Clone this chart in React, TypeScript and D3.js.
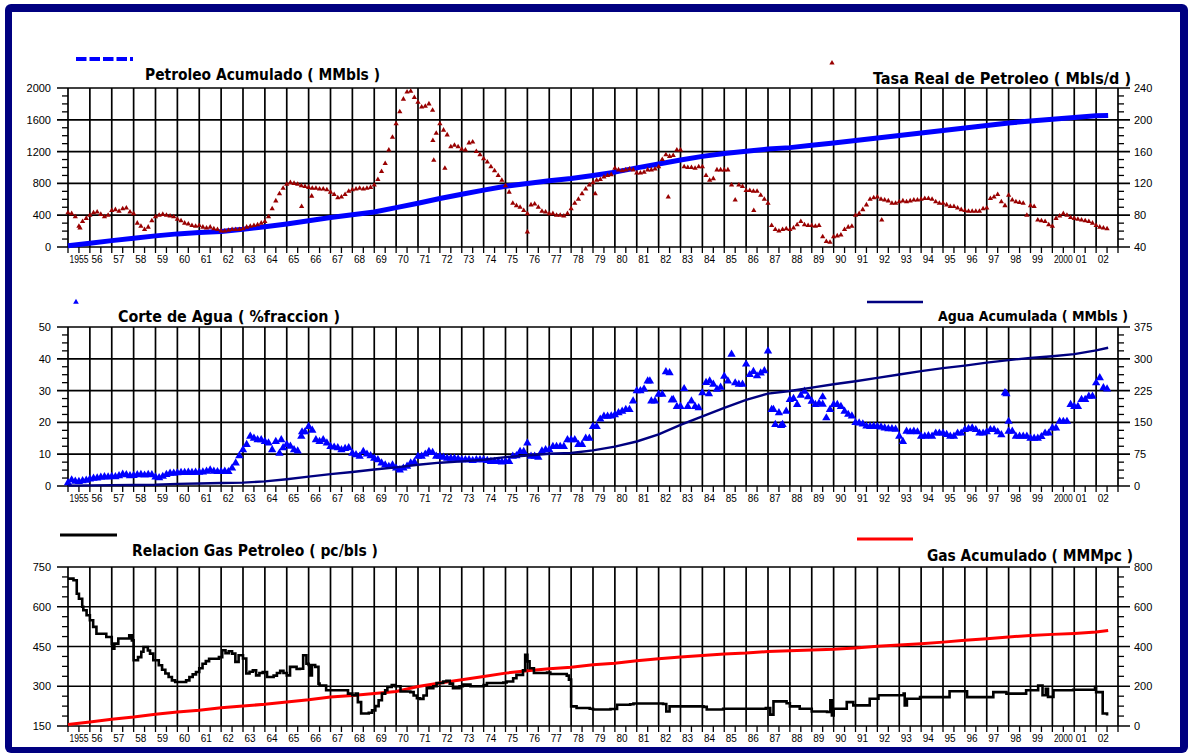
import React from "react";
import * as d3 from "d3";

// ---------- shared time axis ----------
const firstYear = 1955;
const lastYear = 2003;
const yearLabels = [
  "1955", "56", "57", "58", "59", "60", "61", "62", "63", "64", "65", "66",
  "67", "68", "69", "70", "71", "72", "73", "74", "75", "76", "77", "78",
  "79", "80", "81", "82", "83", "84", "85", "86", "87", "88", "89", "90",
  "91", "92", "93", "94", "95", "96", "97", "98", "99", "2000", "01", "02",
];

// yearly readings for the cumulative curves (last entry = last month of data)
const cumYears = [
  1955, 1956, 1957, 1958, 1959, 1960, 1961, 1962, 1963, 1964, 1965, 1966,
  1967, 1968, 1969, 1970, 1971, 1972, 1973, 1974, 1975, 1976, 1977, 1978,
  1979, 1980, 1981, 1982, 1983, 1984, 1985, 1986, 1987, 1988, 1989, 1990,
  1991, 1992, 1993, 1994, 1995, 1996, 1997, 1998, 1999, 2000, 2001, 2002,
  2002.55,
];

// ---------- panel 1: oil ----------
const oilCumTicks = [0, 400, 800, 1200, 1600, 2000];
const oilRateTicks = [40, 80, 120, 160, 200, 240];

// Petroleo Acumulado (MMbls)
const oilCumulative = [
  15, 48, 80, 110, 140, 165, 182, 196, 222, 255, 290, 330,
  370, 405, 440, 495, 550, 610, 664, 715, 765, 800, 832, 862,
  900, 942, 995, 1045, 1095, 1140, 1175, 1205, 1232, 1250, 1280, 1308,
  1340, 1371, 1402, 1434, 1466, 1497, 1528, 1560, 1585, 1608, 1630, 1650,
  1655,
];

// samples per year for the monthly-style scatter series
const samplesPerYear = 6;

// Tasa Real de Petroleo (Mbls/d), bi-monthly from 1955.0
const oilRate = [
  83, 82, 78, 66, 72, 76, // 1955
  80, 83, 84, 81, 78, 80, // 1956
  86, 87, 85, 88, 89, 84, // 1957
  82, 70, 66, 62, 65, 73, // 1958
  78, 80, 81, 80, 79, 78, // 1959
  75, 73, 70, 69, 67, 66, // 1960
  67, 65, 64, 65, 63, 62, // 1961
  60, 60, 61, 62, 62, 62, // 1962
  63, 65, 66, 67, 68, 70, // 1963
  72, 78, 88, 98, 107, 114, // 1964
  119, 121, 120, 119, 117, 116, // 1965
  115, 114, 114, 113, 113, 112, // 1966
  109, 106, 102, 103, 106, 110, // 1967
  112, 113, 114, 113, 114, 115, // 1968
  118, 125, 135, 145, 162, 178, // 1969
  195, 210, 226, 235, 236, 228, // 1970
  222, 216, 217, 220, 212, 183, // 1971
  195, 187, 181, 166, 168, 166, // 1972
  163, 162, 171, 172, 160, 156, // 1973
  151, 147, 141, 136, 130, 124, // 1974
  117, 109, 95, 92, 90, 86, // 1975
  82, 93, 94, 90, 85, 84, // 1976
  82, 82, 80, 80, 79, 82, // 1977
  88, 95, 100, 107, 113, 118, // 1978
  121, 124, 125, 128, 130, 131, // 1979
  139, 137, 136, 137, 138, 137, // 1980
  133, 133, 134, 137, 137, 138, // 1981
  141, 150, 156, 154, 155, 162, // 1982
  162, 141, 140, 140, 139, 141, // 1983
  141, 130, 124, 126, 137, 137, // 1984
  137, 137, 118, 99, 118, 116, // 1985
  111, 111, 110, 110, 105, 100, // 1986
  95, 67, 62, 60, 62, 63, // 1987
  62, 64, 68, 72, 68, 67, // 1988
  67, 66, 67, 53, 47, 46, // 1989
  53, 54, 55, 62, 65, 66, // 1990
  80, 82, 87, 93, 100, 102, // 1991
  103, 100, 99, 98, 95, 95, // 1992
  97, 98, 97, 98, 99, 99, // 1993
  100, 101, 101, 100, 97, 95, // 1994
  95, 93, 91, 91, 89, 87, // 1995
  86, 85, 85, 85, 85, 88, // 1996
  89, 101, 103, 106, 97, 92, // 1997
  105, 99, 97, 96, 95, 80, // 1998
  92, 91, 74, 73, 72, 68, // 1999
  66, 76, 79, 82, 80, 77, // 2000
  76, 75, 74, 73, 72, 70, // 2001
  67, 65, 64, 63, // 2002
];

// isolated rate readings away from the main trend
const oilRateExtra: [number, number][] = [
  [1955.55, 64], [1965.68, 91], [1966.14, 104], [1971.68, 174],
  [1971.72, 149], [1972.23, 139], [1976.0, 59], [1979.1, 107],
  [1982.44, 103], [1986.35, 86], [1992.2, 74],
];

// ---------- panel 2: water ----------
const waterCutTicks = [0, 10, 20, 30, 40, 50];
const waterCumTicks = [0, 75, 150, 225, 300, 375];

// Corte de Agua (%), bi-monthly from 1955.0
const waterCut = [
  1.0, 1.9, 1.5, 1.4, 1.6, 1.8, // 1955
  2.2, 2.4, 2.5, 2.7, 2.9, 2.8, // 1956
  3.0, 2.9, 3.2, 3.7, 3.5, 3.2, // 1957
  3.3, 3.5, 3.6, 3.4, 3.6, 3.5, // 1958
  2.8, 2.6, 3.0, 3.6, 4.0, 4.0, // 1959
  4.1, 4.2, 4.2, 4.3, 4.2, 4.3, // 1960
  4.3, 4.4, 4.6, 5.0, 4.6, 4.5, // 1961
  4.5, 4.6, 4.5, 5.6, 7.2, 9.5, // 1962
  11.4, 13.0, 15.6, 15.0, 14.5, 14.5, // 1963
  14.0, 13.5, 11.4, 14.0, 10.3, 12.0, // 1964
  13.0, 12.5, 11.4, 11.0, 15.6, 17.0, // 1965
  18.7, 17.5, 14.5, 14.0, 14.5, 13.5, // 1966
  12.4, 12.2, 12.0, 11.4, 11.8, 12.0, // 1967
  10.3, 9.8, 9.3, 10.8, 10.0, 9.5, // 1968
  8.7, 8.2, 7.2, 6.6, 6.1, 6.6, // 1969
  5.6, 5.0, 5.6, 6.2, 7.2, 7.5, // 1970
  9.3, 9.3, 10.0, 10.8, 10.5, 9.3, // 1971
  9.3, 9.0, 8.7, 8.7, 8.7, 8.5, // 1972
  8.2, 8.2, 8.2, 8.0, 8.2, 8.2, // 1973
  8.2, 8.0, 7.7, 7.7, 7.7, 7.5, // 1974
  7.7, 7.7, 9.3, 9.5, 10.8, 10.8, // 1975
  13.5, 9.3, 9.3, 9.0, 11.0, 11.4, // 1976
  11.4, 12.4, 12.4, 12.4, 12.4, 14.5, // 1977
  14.5, 14.5, 13.0, 13.0, 15.0, 15.0, // 1978
  18.7, 18.7, 21.0, 21.9, 21.9, 22.0, // 1979
  22.4, 23.0, 23.5, 24.0, 24.0, 26.7, // 1980
  29.9, 29.9, 30.5, 33.0, 26.7, 26.7, // 1981
  28.8, 28.8, 35.9, 35.6, 27.2, 25.0, // 1982
  25.0, 30.6, 25.0, 26.7, 25.0, 24.6, // 1983
  29.3, 32.5, 33.0, 32.0, 30.4, 31.0, // 1984
  34.5, 33.0, 41.4, 32.4, 32.0, 32.0, // 1985
  38.3, 35.0, 36.0, 34.6, 35.5, 36.2, // 1986
  42.4, 24.0, 19.3, 23.0, 19.3, 23.5, // 1987
  27.2, 27.5, 25.6, 28.5, 29.8, 28.0, // 1988
  26.6, 25.6, 26.0, 25.7, 21.4, 24.0, // 1989
  25.6, 25.6, 25.0, 23.5, 22.5, 22.0, // 1990
  19.9, 19.8, 19.5, 18.8, 18.7, 18.8, // 1991
  18.7, 18.5, 18.2, 18.0, 18.0, 17.8, // 1992
  15.6, 14.0, 17.2, 17.0, 17.2, 17.0, // 1993
  15.6, 15.6, 15.8, 15.6, 16.6, 16.6, // 1994
  16.6, 16.2, 15.6, 15.6, 16.6, 16.6, // 1995
  17.7, 18.0, 18.2, 17.7, 16.6, 16.6, // 1996
  17.0, 17.7, 17.7, 17.0, 16.1, 29.3, // 1997
  17.2, 17.2, 15.6, 15.6, 15.6, 15.6, // 1998
  15.0, 15.0, 15.0, 15.5, 16.6, 16.6, // 1999
  18.2, 18.2, 20.3, 20.3, 20.3, 25.6, // 2000
  25.0, 25.0, 27.2, 27.2, 28.2, 28.2, // 2001
  32.4, 34.0, 30.9, 30.5, // 2002
];

const waterCutExtra: [number, number][] = [
  [1964.75, 14.5], [1965.7, 17.0], [1981.6, 33.0], [1982.6, 27.0],
  [1987.25, 24.0], [1987.6, 19.0], [1997.9, 29.0], [1998.0, 20.3],
  [1989.5, 28.0], [1984.3, 29.0],
];

// Agua Acumulada (MMbls)
const waterCumulative = [
  1, 1.5, 2, 2.5, 3, 5, 6, 7, 8, 11, 16, 22,
  28, 33, 39, 44, 50, 55, 58, 62, 68, 72, 76, 78,
  84, 93, 105, 122, 144, 164, 184, 203, 218, 224, 232, 240,
  247, 255, 263, 271, 278, 284, 291, 297, 302, 306, 311, 320,
  326,
];

// ---------- panel 3: gas ----------
const gorTicks = [150, 300, 450, 600, 750];
const gasCumTicks = [0, 200, 400, 600, 800];

// Relacion Gas Petroleo (pc/bls): [year, value] at each change of level
const gorSteps: [number, number][] = [
  [1955.0, 706], [1955.25, 700], [1955.4, 649], [1955.5, 630], [1955.65, 600],
  [1955.7, 587], [1955.85, 568], [1956.0, 549], [1956.15, 524], [1956.3, 498],
  [1956.75, 486], [1957.0, 460], [1957.05, 442], [1957.12, 461], [1957.3, 480],
  [1957.8, 492], [1957.92, 473], [1958.0, 398], [1958.2, 410], [1958.35, 430],
  [1958.45, 448], [1958.65, 435], [1958.75, 423], [1958.9, 398], [1959.15, 379],
  [1959.3, 362], [1959.45, 348], [1959.6, 335], [1959.75, 322], [1959.9, 316],
  [1960.4, 322], [1960.55, 335], [1960.7, 345], [1960.85, 354], [1961.0, 368],
  [1961.15, 385], [1961.3, 395], [1961.45, 404], [1961.9, 410], [1962.05, 436],
  [1962.2, 425], [1962.35, 432], [1962.5, 423], [1962.65, 392], [1962.8, 417],
  [1963.0, 405], [1963.15, 348], [1963.3, 355], [1963.45, 360], [1963.6, 341],
  [1963.75, 350], [1963.9, 354], [1964.1, 335], [1964.4, 340], [1964.55, 350],
  [1964.7, 358], [1964.85, 350], [1965.0, 341], [1965.15, 373], [1965.45, 365],
  [1965.6, 366], [1965.75, 417], [1965.9, 385], [1966.0, 380], [1966.05, 341],
  [1966.15, 380], [1966.3, 373], [1966.45, 310], [1966.5, 303], [1966.8, 285],
  [1967.7, 285], [1967.8, 272], [1968.0, 266], [1968.15, 272], [1968.25, 240],
  [1968.4, 197], [1968.75, 200], [1968.9, 209], [1969.05, 225], [1969.2, 247],
  [1969.35, 272], [1969.5, 285], [1969.6, 297], [1969.8, 305], [1969.95, 300],
  [1970.2, 280], [1970.65, 278], [1970.8, 265], [1970.95, 255], [1971.1, 252],
  [1971.25, 265], [1971.4, 293], [1971.7, 300], [1971.85, 312], [1972.15, 318],
  [1972.3, 321], [1972.45, 310], [1972.6, 293], [1972.9, 300], [1973.05, 306],
  [1973.4, 300], [1974.0, 305], [1974.15, 312], [1974.9, 314], [1975.05, 318],
  [1975.35, 330], [1975.5, 343], [1975.8, 360], [1975.9, 419], [1976.0, 394],
  [1976.1, 368], [1976.3, 350], [1976.9, 352], [1977.05, 346], [1977.8, 340],
  [1977.9, 325], [1978.0, 224], [1978.25, 218], [1978.85, 215], [1979.0, 212],
  [1979.8, 214], [1980.1, 230], [1980.7, 232], [1980.85, 235], [1982.2, 233],
  [1982.35, 205], [1982.5, 224], [1984.05, 222], [1984.2, 212], [1984.95, 215],
  [1986.9, 218], [1987.1, 193], [1987.25, 243], [1987.85, 236], [1988.0, 224],
  [1988.45, 215], [1989.0, 205], [1989.7, 203], [1989.85, 247], [1989.92, 190],
  [1990.0, 215], [1990.6, 240], [1990.9, 228], [1991.65, 253], [1992.05, 266],
  [1993.2, 272], [1993.25, 228], [1993.35, 253], [1993.95, 259], [1995.3, 281],
  [1996.1, 259], [1997.3, 278], [1997.9, 272], [1998.8, 285], [1999.35, 303],
  [1999.55, 266], [1999.7, 290], [1999.8, 260], [2000.05, 285], [2000.95, 287],
  [2001.95, 297], [2002.0, 278], [2002.3, 197], [2002.5, 190],
];

// Gas Acumulado (MMMpc)
const gasCumulative = [
  8, 20, 34, 45, 59, 70, 79, 92, 101, 109, 121, 132,
  146, 154, 163, 174, 199, 216, 233, 249, 266, 278, 288, 296,
  308, 316, 328, 338, 347, 355, 362, 367, 375, 379, 382, 386,
  393, 401, 407, 414, 422, 431, 439, 448, 455, 461, 466, 473,
  481,
];

// ---------- layout ----------
const W = 1188;
const H = 753;
const X0 = 68;
const X1 = 1118;
const PANEL_H = 159;
const panelTops = [88, 327, 567];

const NAVY = "#000080";
const BLUE = "#0000ff";
const DARK_RED = "#990000";
const RED = "#ff0000";

const tickFont = "'Liberation Sans', Arial, sans-serif";
const titleFont = "'DejaVu Sans Condensed', 'DejaVu Sans', sans-serif";

const x = d3.scaleLinear().domain([firstYear, lastYear]).range([X0, X1]);

const triangle = (size: number) => d3.symbol().type(d3.symbolTriangle).size(size)() as string;

function scales(top: number, leftTicks: number[], rightTicks: number[]) {
  const bottom = top + PANEL_H;
  const yl = d3.scaleLinear().domain([leftTicks[0], leftTicks[leftTicks.length - 1]]).range([bottom, top]);
  const yr = d3.scaleLinear().domain([rightTicks[0], rightTicks[rightTicks.length - 1]]).range([bottom, top]);
  return { yl, yr, bottom };
}

function minorOf(ticks: number[]) {
  const out: number[] = [];
  for (let i = 0; i < ticks.length - 1; i++) {
    const step = (ticks[i + 1] - ticks[i]) / 4;
    for (let k = 1; k < 4; k++) out.push(ticks[i] + k * step);
  }
  return out;
}

function Grid({ top, leftTicks, rightTicks }: { top: number; leftTicks: number[]; rightTicks: number[] }) {
  const { yl, yr, bottom } = scales(top, leftTicks, rightTicks);
  const years = d3.range(firstYear, lastYear + 1);
  const halfYears = d3.range(firstYear * 2, lastYear * 2 + 1).map((h) => h / 2);
  const sw = 1.7;
  return (
    <g>
      {leftTicks.map((v) => (
        <line key={"h" + v} x1={57} x2={1130} y1={yl(v)} y2={yl(v)} stroke="#000" strokeWidth={sw} />
      ))}
      {years.map((yr0) => (
        <line key={"v" + yr0} x1={x(yr0)} x2={x(yr0)} y1={top} y2={bottom} stroke="#000" strokeWidth={sw} />
      ))}
      {minorOf(leftTicks).map((v) => (
        <line key={"ml" + v} x1={62} x2={X0} y1={yl(v)} y2={yl(v)} stroke="#000" strokeWidth={1.3} />
      ))}
      {minorOf(rightTicks).map((v) => (
        <line key={"mr" + v} x1={X1} x2={X1 + 6} y1={yr(v)} y2={yr(v)} stroke="#000" strokeWidth={1.3} />
      ))}
      {halfYears.map((t) => (
        <line key={"t" + t} x1={x(t)} x2={x(t)} y1={bottom} y2={bottom + 6} stroke="#000" strokeWidth={1.3} />
      ))}
      {leftTicks.map((v) => (
        <text key={"lt" + v} x={51} y={yl(v)} textAnchor="end" dominantBaseline="central"
          fontFamily={tickFont} fontSize={11} fill="#000">{v}</text>
      ))}
      {rightTicks.map((v) => (
        <text key={"rt" + v} x={1134} y={yr(v)} textAnchor="start" dominantBaseline="central"
          fontFamily={tickFont} fontSize={11} fill="#000">{v}</text>
      ))}
      {yearLabels.map((label, i) => (
        <text key={"xl" + i} x={x(firstYear + i) + 1.5} y={bottom + 12} textAnchor="start"
          dominantBaseline="central" fontFamily={tickFont} fontSize={10}
          textLength={label.length > 2 ? 19 : undefined}
          lengthAdjust={label.length > 2 ? "spacingAndGlyphs" : undefined}
          fill="#000">{label}</text>
      ))}
    </g>
  );
}

function Title({ x0, y0, width, text, size = 15 }: { x0: number; y0: number; width: number; text: string; size?: number }) {
  return (
    <text x={x0} y={y0} textLength={width} lengthAdjust="spacingAndGlyphs"
      fontFamily={titleFont} fontWeight="bold" fontSize={size} fill="#000">{text}</text>
  );
}

export default function App() {
  const [t1, t2, t3] = panelTops;
  const p1 = scales(t1, oilCumTicks, oilRateTicks);
  const p2 = scales(t2, waterCutTicks, waterCumTicks);
  const p3 = scales(t3, gorTicks, gasCumTicks);

  const oilCumLine = d3.line<number>().x((_, i) => x(cumYears[i])).y((v) => p1.yl(v))(oilCumulative) as string;
  const waterCumLine = d3.line<number>().x((_, i) => x(cumYears[i])).y((v) => p2.yr(v))(waterCumulative) as string;
  const gasCumLine = d3.line<number>().x((_, i) => x(cumYears[i])).y((v) => p3.yr(v))(gasCumulative) as string;
  const gorLine = d3.line<[number, number]>().curve(d3.curveStepAfter)
    .x((d) => x(d[0])).y((d) => p3.yl(d[1]))(gorSteps) as string;

  const rateTri = triangle(12);
  const cutTri = triangle(30);

  const ratePts: [number, number][] = oilRate.map((v, i) => [firstYear + i / samplesPerYear, v]);
  const cutPts: [number, number][] = waterCut.map((v, i) => [firstYear + i / samplesPerYear, v]);

  return (
    <svg width={W} height={H} viewBox={`0 0 ${W} ${H}`}
      style={{ position: "absolute", left: 0, top: 0, display: "block", background: "#fff" }}>
      <rect x={0} y={0} width={W} height={H} fill="#fff" />
      <rect x={5} y={4} width={W - 5} height={H - 4} rx={6} fill={NAVY} />
      <rect x={12} y={12} width={1168} height={735} fill="#fff" />

      {/* panel 1: oil */}
      <Grid top={t1} leftTicks={oilCumTicks} rightTicks={oilRateTicks} />
      <path d={oilCumLine} fill="none" stroke={BLUE} strokeWidth={5} />
      {ratePts.concat(oilRateExtra).map((d, i) => (
        <path key={"r" + i} d={rateTri} transform={`translate(${x(d[0])},${p1.yr(d[1])})`} fill={DARK_RED} />
      ))}
      <line x1={76} x2={133} y1={59} y2={59} stroke={BLUE} strokeWidth={4} strokeDasharray="10.5 3" />
      <Title x0={145} y0={80} width={235} text="Petroleo Acumulado ( MMbls )" />
      <path d={rateTri} transform="translate(832,63)" fill={DARK_RED} />
      <Title x0={873} y0={84} width={258} text="Tasa Real de Petroleo ( Mbls/d )" />

      {/* panel 2: water */}
      <Grid top={t2} leftTicks={waterCutTicks} rightTicks={waterCumTicks} />
      {cutPts.concat(waterCutExtra).map((d, i) => (
        <path key={"c" + i} d={cutTri} transform={`translate(${x(d[0])},${p2.yl(d[1])})`} fill={BLUE} />
      ))}
      <path d={waterCumLine} fill="none" stroke={NAVY} strokeWidth={2.4} />
      <path d={triangle(14)} transform="translate(76,302)" fill={BLUE} />
      <Title x0={118} y0={322} width={222} text="Corte de Agua ( %fraccion )" />
      <line x1={867} x2={923} y1={302} y2={302} stroke={NAVY} strokeWidth={2.6} />
      <Title x0={938} y0={321} width={190} size={14} text="Agua Acumulada ( MMbls )" />

      {/* panel 3: gas */}
      <Grid top={t3} leftTicks={gorTicks} rightTicks={gasCumTicks} />
      <path d={gasCumLine} fill="none" stroke={RED} strokeWidth={3} />
      <path d={gorLine} fill="none" stroke="#000" strokeWidth={2.6} />
      <line x1={60} x2={117} y1={535} y2={535} stroke="#000" strokeWidth={3} />
      <Title x0={132} y0={556} width={246} text="Relacion Gas Petroleo ( pc/bls )" />
      <line x1={857} x2={913} y1={539} y2={539} stroke={RED} strokeWidth={3} />
      <Title x0={927} y0={561} width={206} text="Gas Acumulado ( MMMpc )" />
    </svg>
  );
}
